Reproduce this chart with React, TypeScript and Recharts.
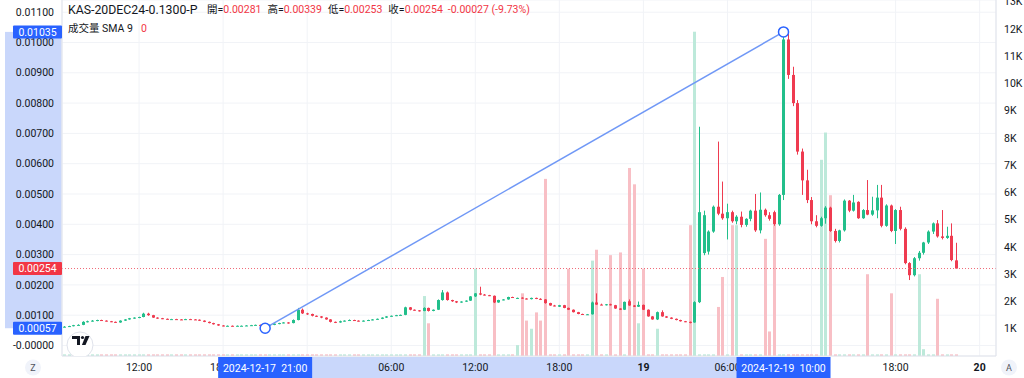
import React from 'react';
import {
  ComposedChart,
  Bar,
  XAxis,
  YAxis,
  CartesianGrid,
  ReferenceLine,
  ReferenceDot,
} from 'recharts';

// ---------------- data ----------------
// candles: [open, high, low, close] in units of 0.00001, one per 20 minutes from 2024-12-17 06:40
const ohlc: number[][] = [
  // 0-9
  [61, 64, 60, 62], [62, 65, 61, 64], [64, 68, 63, 67], [67, 70, 66, 68], [68, 80, 67, 78], [78, 82, 76, 80], [80, 84, 79, 82], [82, 85, 80, 84], [84, 85, 81, 82], [82, 83, 79, 80],
  // 10-19
  [80, 81, 77, 78], [78, 79, 75, 76], [76, 83, 75, 82], [82, 87, 81, 86], [86, 91, 85, 90], [90, 93, 88, 92], [92, 95, 90, 94], [94, 108, 93, 105], [105, 108, 98, 100], [100, 101, 91, 92],
  // 20-29
  [92, 93, 88, 90], [90, 91, 87, 88], [88, 89, 85, 86], [86, 88, 85, 87], [87, 88, 85, 86], [86, 87, 84, 85], [85, 88, 84, 87], [87, 88, 85, 86], [86, 87, 84, 85], [85, 86, 81, 82],
  // 30-39
  [82, 83, 77, 78], [78, 79, 73, 74], [74, 75, 69, 70], [70, 71, 65, 66], [66, 67, 63, 64], [64, 66, 63, 65], [65, 66, 63, 64], [64, 66, 63, 65], [65, 66, 64, 65], [65, 67, 64, 66],
  // 40-49
  [66, 68, 65, 67], [67, 69, 66, 68], [68, 69, 65, 66], [66, 67, 57, 64], [64, 69, 63, 68], [68, 73, 67, 72], [72, 75, 70, 74], [74, 77, 73, 76], [76, 77, 72, 74], [74, 86, 73, 84],
  // 50-59
  [84, 124, 83, 118], [118, 122, 104, 106], [106, 108, 101, 104], [104, 105, 96, 98], [98, 99, 94, 96], [96, 97, 90, 92], [92, 93, 85, 86], [86, 87, 76, 78], [78, 79, 74, 76], [76, 82, 75, 80],
  // 60-69
  [80, 83, 79, 82], [82, 86, 81, 84], [84, 85, 81, 82], [82, 83, 79, 80], [80, 83, 79, 82], [82, 85, 81, 84], [84, 87, 83, 86], [86, 89, 85, 88], [88, 93, 87, 92], [92, 97, 91, 96],
  // 70-79
  [96, 99, 95, 98], [98, 101, 97, 100], [100, 102, 99, 101], [101, 128, 100, 126], [126, 127, 116, 118], [118, 119, 115, 116], [116, 117, 112, 114], [114, 126, 113, 124], [124, 125, 112, 114], [114, 119, 113, 118],
  // 80-89
  [118, 152, 117, 150], [150, 183, 148, 175], [175, 178, 148, 150], [150, 151, 144, 146], [146, 147, 140, 142], [142, 146, 141, 145], [145, 149, 144, 148], [148, 163, 147, 162], [162, 173, 160, 172], [172, 194, 166, 168],
  // 90-99
  [168, 170, 165, 166], [166, 167, 163, 164], [164, 165, 140, 142], [142, 151, 141, 150], [150, 153, 149, 152], [152, 161, 151, 160], [160, 161, 157, 158], [155, 158, 154, 157], [158, 159, 154, 155], [155, 156, 152, 153],
  // 100-109
  [153, 158, 152, 157], [157, 158, 153, 154], [154, 156, 150, 152], [152, 153, 138, 140], [140, 141, 131, 132], [132, 134, 129, 130], [128, 134, 127, 133], [133, 134, 123, 124], [124, 125, 117, 118], [118, 119, 109, 110],
  // 110-119
  [110, 111, 103, 104], [104, 105, 101, 102], [102, 104, 101, 103], [103, 145, 102, 142], [142, 172, 134, 135], [135, 138, 133, 134], [134, 137, 132, 136], [136, 138, 132, 133], [133, 134, 121, 122], [122, 123, 117, 118],
  // 120-129
  [118, 145, 117, 144], [146, 152, 131, 132], [132, 133, 127, 128], [128, 145, 127, 134], [134, 135, 117, 118], [118, 119, 95, 96], [96, 97, 85, 86], [86, 112, 84, 110], [110, 116, 95, 96], [96, 97, 91, 92],
  // 130-139
  [92, 93, 87, 88], [88, 89, 83, 84], [84, 85, 79, 80], [80, 81, 77, 78], [78, 79, 73, 76], [76, 146, 75, 143], [143, 722, 140, 440], [305, 445, 298, 430], [310, 380, 300, 376], [376, 462, 372, 458],
  // 140-149
  [458, 673, 430, 435], [435, 541, 415, 420], [420, 468, 350, 440], [440, 445, 405, 410], [410, 430, 400, 425], [425, 442, 390, 398], [398, 420, 392, 418], [418, 448, 410, 445], [445, 500, 375, 380], [380, 505, 370, 448],
  // 150-159
  [448, 452, 425, 430], [430, 440, 412, 418], [440, 445, 395, 400], [400, 500, 395, 497], [497, 1035, 480, 1010], [1010, 1030, 880, 893], [893, 920, 790, 800], [800, 810, 630, 640], [640, 650, 497, 545], [545, 580, 470, 480],
  // 160-169
  [480, 490, 400, 410], [410, 430, 390, 395], [395, 425, 392, 420], [420, 460, 402, 455], [455, 458, 375, 378], [378, 385, 340, 345], [345, 382, 340, 380], [380, 482, 376, 478], [478, 480, 440, 445], [445, 497, 442, 472],
  // 170-179
  [474, 476, 418, 420], [420, 450, 418, 447], [447, 546, 430, 432], [432, 491, 428, 446], [446, 530, 420, 488], [488, 530, 390, 395], [395, 466, 392, 462], [462, 465, 374, 378], [378, 450, 335, 447], [447, 458, 380, 385],
  // 180-189
  [385, 390, 268, 272], [272, 275, 216, 232], [232, 292, 228, 288], [288, 312, 280, 306], [306, 342, 300, 340], [340, 380, 335, 376], [376, 406, 368, 403], [403, 414, 356, 360], [360, 447, 350, 355], [355, 392, 352, 362],
  // 190-191
  [362, 403, 278, 282], [281, 339, 253, 254],
];

// volume per candle
const volumes: number[] = [
  // 0-19
  60, 60, 60, 60, 60, 60, 60, 60, 60, 60, 60, 60, 60, 60, 60, 60, 60, 60, 60, 60,
  // 20-39
  60, 60, 60, 60, 60, 60, 60, 60, 60, 60, 60, 60, 60, 60, 60, 60, 60, 60, 60, 60,
  // 40-59
  60, 60, 60, 60, 60, 60, 60, 60, 60, 60, 60, 60, 60, 60, 60, 60, 60, 60, 60, 60,
  // 60-79
  60, 60, 60, 60, 60, 60, 60, 60, 60, 60, 60, 60, 60, 60, 60, 60, 60, 2200, 1200, 60,
  // 80-99
  60, 60, 60, 60, 60, 60, 60, 60, 3200, 60, 60, 60, 2200, 60, 60, 60, 60, 400, 2300, 1300,
  // 100-119
  1000, 1600, 1300, 6500, 60, 60, 60, 60, 3200, 60, 60, 60, 60, 3500, 3900, 60, 60, 3700, 60, 3800,
  // 120-139
  60, 6900, 6300, 1200, 3200, 60, 60, 1000, 60, 60, 60, 60, 60, 60, 4800, 11900, 60, 60, 60, 60,
  // 140-159
  1800, 2900, 60, 4800, 4800, 60, 60, 60, 60, 60, 4300, 900, 4800, 60, 60, 60, 60, 60, 60, 60,
  // 160-179
  60, 60, 7200, 8200, 5900, 60, 60, 60, 60, 60, 60, 60, 3000, 60, 60, 60, 60, 2300, 60, 60,
  // 180-191
  60, 60, 60, 3000, 250, 60, 60, 2100, 60, 60, 60, 60,
];

const priceTicks = [0, 0.001, 0.002, 0.003, 0.004, 0.005, 0.006, 0.007, 0.008, 0.009, 0.01, 0.011];
const volumeTicks = [1000, 2000, 3000, 4000, 5000, 6000, 7000, 8000, 9000, 10000, 11000, 12000, 13000];
const xTickIndex = [16, 34, 52, 70, 88, 106, 124, 142, 160, 178, 196];
const xTickLabels = ['12:00', '18:00', '', '06:00', '12:00', '18:00', '19', '06:00', '', '18:00', '20'];
const dayLabels = ['19', '20'];

const measureStart = { index: 43, price: 0.00057, label: '2024-12-17  21:00' };
const measureEnd = { index: 154, price: 0.01035, label: '2024-12-19  10:00' };
const lastPrice = 0.00254;

// ---------------- layout / style ----------------
const W = 1024;
const H = 378;
const LEFT_W = 62;
const RIGHT_W = 28;
const XAXIS_H = 22;
const N_SLOTS = 200;
const PRICE_MIN = -0.000347;
const PRICE_MAX = 0.011403;
const VOL_MAX = 13064;
const UNIT = 0.00001;

const UP = '#22bf8b';
const DOWN = '#ef3b50';
const UP_VOL = '#bde9da';
const DOWN_VOL = '#f8bfc5';
const BLUE = '#2962ff';
const FONT = "Roboto, 'Noto Sans CJK TC', 'Noto Sans', sans-serif";
const TEXT = '#131722';

const PLOT_L = LEFT_W;
const PLOT_R = W - RIGHT_W;
const PLOT_T = 0;
const PLOT_B = H - XAXIS_H;
const slotW = (PLOT_R - PLOT_L) / N_SLOTS;
const xOf = (i: number) => PLOT_L + (i + 0.5) * slotW;
const yOfPrice = (p: number) => PLOT_T + ((PRICE_MAX - p) / (PRICE_MAX - PRICE_MIN)) * (PLOT_B - PLOT_T);

const data = Array.from({ length: N_SLOTS }, (_, i) => {
  const c = ohlc[i];
  if (!c) return { i };
  const [o, h, l, cl] = c;
  return {
    i,
    o: o * UNIT,
    h: h * UNIT,
    l: l * UNIT,
    c: cl * UNIT,
    range: [l * UNIT, h * UNIT],
    vol: volumes[i],
  };
});

const CandleShape = (props: any) => {
  const { x, y, width, height, payload } = props;
  if (!payload || payload.h == null) return null;
  const { o, h, l, c } = payload;
  const top = Math.min(y, y + height);
  const bottom = Math.max(y, y + height);
  const span = h - l;
  const toY = (v: number) => (span === 0 ? top : top + ((h - v) / span) * (bottom - top));
  const up = c >= o;
  const color = up ? UP : DOWN;
  const cx = Math.floor(x + width / 2);
  const bTop = toY(Math.max(o, c));
  const bBot = toY(Math.min(o, c));
  return (
    <g>
      <line x1={cx + 0.5} x2={cx + 0.5} y1={top} y2={bottom} stroke={color} strokeWidth={1} />
      <rect x={cx - 1} y={bTop} width={3} height={Math.max(1, bBot - bTop)} fill={color} />
    </g>
  );
};

const VolumeShape = (props: any) => {
  const { x, y, width, height, payload } = props;
  if (!payload || payload.vol == null) return null;
  const up = payload.c >= payload.o;
  const cx = Math.floor(x + width / 2);
  const top = Math.min(y, y + height);
  const hh = Math.abs(height);
  return <rect x={cx - 1} y={top} width={3} height={Math.max(1, hh)} fill={up ? UP_VOL : DOWN_VOL} />;
};

const PriceTick = (props: any) => {
  const { x, y, payload } = props;
  const v = payload.value as number;
  const label = v === 0 ? '-0.00000' : v.toFixed(5);
  return (
    <text x={x} y={y} dy="0.35em" textAnchor="end" fontSize={10.5} fill={TEXT} fontFamily={FONT}>
      {label}
    </text>
  );
};

const VolTick = (props: any) => {
  const { x, y, payload } = props;
  return (
    <text x={x} y={y} dy="0.35em" textAnchor="start" fontSize={10.5} fill={TEXT} fontFamily={FONT}>
      {`${payload.value / 1000}K`}
    </text>
  );
};

const TimeTick = (props: any) => {
  const { x, y, payload } = props;
  const k = xTickIndex.indexOf(payload.value);
  const label = k >= 0 ? xTickLabels[k] : '';
  if (!label) return null;
  const bold = dayLabels.includes(label);
  return (
    <text x={x} y={y} dy="0.71em" textAnchor="middle" fontSize={10.5} fill={TEXT} fontWeight={bold ? 700 : 400} fontFamily={FONT}>
      {label}
    </text>
  );
};

export default function App() {
  const ys = yOfPrice(measureStart.price);
  const ye = yOfPrice(measureEnd.price);
  const yl = yOfPrice(lastPrice);
  const xs = xOf(measureStart.index);
  const xe = xOf(measureEnd.index);
  const boxW = 94;
  return (
    <div style={{ position: 'fixed', left: 0, top: 0, width: W, height: H, background: '#fff', overflow: 'hidden', fontFamily: FONT }}>
      {/* highlight bands behind axes */}
      <svg width={W} height={H} style={{ position: 'absolute', left: 0, top: 0 }}>
        <rect x={5} y={ye} width={LEFT_W - 5} height={ys - ye} fill="#c9d7fb" />
        <rect x={xs} y={PLOT_B + 1} width={xe - xs} height={XAXIS_H - 1} fill="#c9d7fb" />
      </svg>
      <div style={{ position: 'absolute', left: 0, top: 0 }}>
        <ComposedChart width={W} height={H} data={data} margin={{ top: 0, right: 0, bottom: 0, left: 0 }}>
          <CartesianGrid xAxisId="main" yAxisId="price" stroke="#f1f3f7" strokeWidth={1} />
          <XAxis
            xAxisId="main"
            dataKey="i"
            type="category"
            ticks={xTickIndex}
            interval={0}
            tick={<TimeTick />}
            tickLine={false}
            axisLine={{ stroke: '#e0e3eb' }}
            height={XAXIS_H}
          />
          <XAxis xAxisId="vol" dataKey="i" type="category" hide />
          <YAxis
            yAxisId="price"
            orientation="left"
            type="number"
            width={LEFT_W}
            domain={[PRICE_MIN, PRICE_MAX]}
            ticks={priceTicks}
            interval={0}
            allowDataOverflow
            tick={<PriceTick />}
            tickLine={false}
            axisLine={{ stroke: '#e0e3eb' }}
          />
          <YAxis
            yAxisId="vol"
            orientation="right"
            type="number"
            width={RIGHT_W}
            domain={[0, VOL_MAX]}
            ticks={volumeTicks}
            interval={0}
            allowDataOverflow
            tick={<VolTick />}
            tickLine={false}
            axisLine={{ stroke: '#e0e3eb' }}
          />
          <Bar xAxisId="vol" yAxisId="vol" dataKey="vol" barSize={3} shape={<VolumeShape />} isAnimationActive={false} />
          <Bar xAxisId="main" yAxisId="price" dataKey="range" barSize={3} shape={<CandleShape />} isAnimationActive={false} />
          <ReferenceLine
            xAxisId="main"
            yAxisId="price"
            y={lastPrice}
            stroke="#f06a78"
            strokeDasharray="1 2"
            strokeWidth={1}
          />
          <ReferenceLine
            xAxisId="main"
            yAxisId="price"
            segment={[
              { x: measureStart.index, y: measureStart.price },
              { x: measureEnd.index, y: measureEnd.price },
            ]}
            stroke="#7098f6"
            strokeWidth={1.5}
            ifOverflow="visible"
          />
          <ReferenceDot xAxisId="main" yAxisId="price" x={measureStart.index} y={measureStart.price} r={5} fill="#fff" stroke={BLUE} strokeWidth={1.5} ifOverflow="visible" />
          <ReferenceDot xAxisId="main" yAxisId="price" x={measureEnd.index} y={measureEnd.price} r={5} fill="#fff" stroke={BLUE} strokeWidth={1.5} ifOverflow="visible" />
        </ComposedChart>
      </div>
      {/* front overlay: axis labels, buttons, logo */}
      <svg width={W} height={H} style={{ position: 'absolute', left: 0, top: 0 }}>
        <defs>
          <clipPath id="plotClip">
            <rect x={PLOT_L + 1} y={0} width={PLOT_R - PLOT_L - 1} height={PLOT_B} />
          </clipPath>
        </defs>
        {/* TV logo */}
        <g clipPath="url(#plotClip)">
          <circle cx={80} cy={345} r={13} fill="#fff" stroke="#e0e3eb" strokeWidth={1} />
          <path d="M72,336 h8 v9 h-3 v-6 h-5 z" fill="#131722" />
          <circle cx={82.5} cy={337.5} r={1.6} fill="#131722" />
          <path d="M85.5,336 h4 l-4,9 h-3.6 z" fill="#131722" />
        </g>
        {/* price axis boxes */}
        <rect x={13} y={ye - 6.5} width={LEFT_W - 13} height={13} rx={1} fill={BLUE} />
        <text x={37.5} y={ye} dy="0.35em" textAnchor="middle" fontSize={10.5} fill="#fff" fontFamily={FONT}>
          {measureEnd.price.toFixed(5)}
        </text>
        <rect x={13} y={yl - 6.5} width={LEFT_W - 13} height={13} rx={1} fill="#f23645" />
        <text x={37.5} y={yl} dy="0.35em" textAnchor="middle" fontSize={10.5} fill="#fff" fontFamily={FONT}>
          {lastPrice.toFixed(5)}
        </text>
        <rect x={13} y={ys - 6.5} width={LEFT_W - 13} height={13} rx={1} fill={BLUE} />
        <text x={37.5} y={ys} dy="0.35em" textAnchor="middle" fontSize={10.5} fill="#fff" fontFamily={FONT}>
          {measureStart.price.toFixed(5)}
        </text>
        {/* time axis boxes */}
        <rect x={xs - boxW / 2} y={PLOT_B + 1} width={boxW} height={XAXIS_H - 1} fill={BLUE} />
        <text x={xs} y={PLOT_B + 12} dy="0.35em" textAnchor="middle" fontSize={10.5} fill="#fff" fontFamily={FONT} style={{ whiteSpace: 'pre' }}>
          {measureStart.label}
        </text>
        <rect x={xe - boxW / 2} y={PLOT_B + 1} width={boxW} height={XAXIS_H - 1} fill={BLUE} />
        <text x={xe} y={PLOT_B + 12} dy="0.35em" textAnchor="middle" fontSize={10.5} fill="#fff" fontFamily={FONT} style={{ whiteSpace: 'pre' }}>
          {measureEnd.label}
        </text>
        {/* Z / A buttons */}
        <circle cx={33} cy={367.5} r={8} fill="#f0f3fa" />
        <text x={33} y={367.5} dy="0.35em" textAnchor="middle" fontSize={9} fill="#50535e" fontFamily={FONT}>Z</text>
        <circle cx={1009} cy={367.5} r={8} fill="#f0f3fa" />
        <text x={1009} y={367.5} dy="0.35em" textAnchor="middle" fontSize={9} fill="#50535e" fontFamily={FONT}>A</text>
      </svg>
      {/* legend text */}
      <div style={{ position: 'absolute', left: 68, top: 1, fontSize: 12.3, color: TEXT, whiteSpace: 'nowrap', lineHeight: '18px' }}>
        KAS-20DEC24-0.1300-P
      </div>
      <div style={{ position: 'absolute', left: 207, top: 3, fontSize: 10.5, color: TEXT, whiteSpace: 'nowrap', lineHeight: '14px' }}>
        <span>開=</span><span style={{ color: '#f23645' }}>0.00281</span>
        <span style={{ marginLeft: 6 }}>高=</span><span style={{ color: '#f23645' }}>0.00339</span>
        <span style={{ marginLeft: 6 }}>低=</span><span style={{ color: '#f23645' }}>0.00253</span>
        <span style={{ marginLeft: 6 }}>收=</span><span style={{ color: '#f23645' }}>0.00254</span>
        <span style={{ marginLeft: 5, color: '#f23645' }}>-0.00027 (-9.73%)</span>
      </div>
      <div style={{ position: 'absolute', left: 68, top: 22, fontSize: 10.5, color: TEXT, whiteSpace: 'nowrap', lineHeight: '14px' }}>
        <span>成交量 SMA 9</span>
        <span style={{ marginLeft: 8, color: '#f23645' }}>0</span>
      </div>
    </div>
  );
}
